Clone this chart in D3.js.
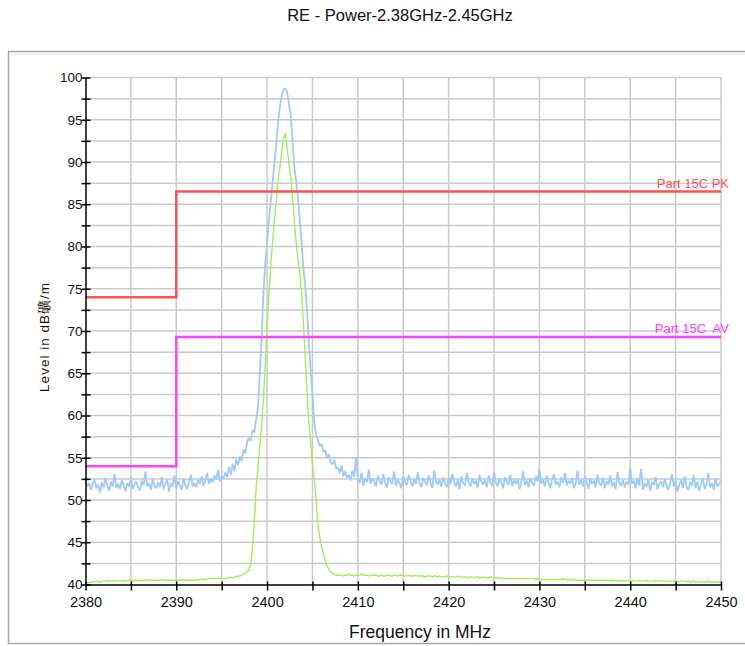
<!DOCTYPE html>
<meta charset="utf-8">

<!-- Load d3.js -->
<script src="https://cdn.jsdelivr.net/npm/d3@7"></script>

<style>
  body { margin: 0; background: #fff; }
  text { font-family: Arial, "Liberation Sans", sans-serif; }
</style>

<!-- Create a div where the graph will take place -->
<div id="re_chart"></div>

<script>

// chart texts
var title = "RE - Power-2.38GHz-2.45GHz";
var xTitle = "Frequency in MHz";
var yTitle = "Level in dB礦/m";

// axis ticks
var xTicks = [2380, 2385, 2390, 2395, 2400, 2405, 2410, 2415, 2420, 2425, 2430, 2435, 2440, 2445, 2450];
var xLabels = [2380, 2390, 2400, 2410, 2420, 2430, 2440, 2450];
var yTicks = [40, 42.5, 45, 47.5, 50, 52.5, 55, 57.5, 60, 62.5, 65, 67.5, 70, 72.5, 75, 77.5, 80, 82.5, 85, 87.5, 90, 92.5, 95, 97.5, 100];
var yLabels = [40, 45, 50, 55, 60, 65, 70, 75, 80, 85, 90, 95, 100];

// sweep: first point, last point, step (MHz)
var sweepStart = 2380, sweepStop = 2450, sweepStep = 0.2;

// peak detector trace (dBuV/m), one value per sweep point
var peakTrace = [
  52.3, 51.6, 52.0, 51.2, 51.9, 52.4, 51.4, 51.8, 50.9, 52.1,
  51.5, 52.6, 51.7, 51.1, 52.2, 51.6, 53.1, 51.4, 51.9, 51.3,
  52.4, 51.7, 51.0, 52.0, 51.6, 52.8, 51.3, 51.9, 52.2, 51.5,
  51.1, 52.3, 51.8, 53.4, 51.6, 52.0, 51.2, 52.5, 51.7, 51.4,
  52.1, 51.5, 52.7, 51.3, 51.9, 52.4, 51.0, 52.0, 51.6, 52.9,
  51.4, 52.2, 51.7, 51.2, 52.6, 51.8, 51.3, 52.1, 53.0, 51.6,
  52.0, 51.5, 52.4, 51.9, 52.8, 51.7, 52.3, 53.2, 51.9, 52.5,
  52.1, 52.9, 52.4, 53.6, 52.2, 52.8, 52.5, 53.3, 52.7, 53.9,
  53.0, 54.3, 53.4, 54.8, 54.1, 55.2, 54.6, 56.0, 55.5, 56.8,
  57.4, 57.0, 58.3, 58.0, 59.6, 61.0, 65.0, 69.0, 74.5, 78.0,
  80.5, 83.0, 85.3, 87.5, 89.8, 92.0, 94.5, 96.5, 97.8, 98.6,
  98.7, 98.3, 97.0, 95.5, 92.5, 89.5, 87.8, 85.8, 83.0, 80.5,
  77.5, 75.5, 72.5, 68.5, 65.5, 62.5, 59.0, 57.8, 57.1, 56.4,
  56.6, 55.7, 55.9, 55.0, 55.4, 54.5, 54.2, 54.8, 53.7, 53.9,
  53.2, 54.1, 52.8, 53.4, 52.6, 53.0, 52.3, 53.5, 52.7, 55.1,
  52.4, 52.0, 53.2, 51.7, 52.6, 52.1, 53.6, 51.9, 52.5, 52.2,
  51.6, 52.9, 52.3, 51.8, 53.1, 52.0, 51.5, 52.7, 52.2, 51.9,
  53.4, 51.7, 52.4, 52.0, 51.4, 52.8, 52.1, 51.8, 53.0, 52.3,
  51.6, 52.5, 51.9, 53.3, 52.0, 51.5, 52.6, 52.2, 51.7, 52.9,
  52.1, 51.4, 53.5, 52.3, 51.8, 52.4, 51.6, 52.7, 52.0, 51.5,
  52.6, 51.9, 53.1, 52.2, 51.6, 52.4, 51.3, 52.8, 52.0, 51.7,
  53.2, 52.1, 51.6, 52.5, 51.9, 52.3, 51.4, 53.0, 52.2, 51.8,
  52.4, 51.5, 52.9, 52.0, 51.7, 53.3, 52.1, 51.6, 52.6, 52.0,
  51.4, 52.7, 52.2, 51.8, 53.0, 51.6, 52.4, 51.9, 52.5, 51.3,
  52.1, 53.4, 51.8, 52.3, 51.5, 52.6, 52.0, 51.7, 52.8, 52.2,
  53.6, 51.9, 52.4, 51.6, 52.9, 52.0, 51.4, 52.5, 53.1, 51.8,
  52.2, 51.5, 52.7, 52.0, 53.2, 51.7, 52.3, 51.9, 52.6, 51.4,
  52.0, 53.5, 51.8, 52.4, 51.6, 52.8, 52.1, 51.3, 52.5, 51.9,
  52.3, 51.5, 53.0, 52.0, 51.7, 52.6, 51.4, 52.2, 51.8, 52.9,
  51.6, 52.1, 51.3, 53.3, 52.0, 51.7, 52.4, 51.5, 52.2, 51.8,
  53.8, 51.9, 52.3, 51.4, 52.6, 51.7, 53.7, 51.2, 52.0, 51.6,
  52.4, 51.1, 52.1, 51.8, 52.7, 51.3, 51.9, 52.2, 51.5, 52.5,
  51.7, 51.2, 52.0, 53.1, 51.6, 52.3, 51.0, 51.8, 52.4, 51.4,
  52.8, 51.6, 51.2, 52.1, 51.7, 53.0, 51.4, 52.2, 51.1, 51.9,
  52.5, 51.3, 51.8, 53.2, 51.5, 52.0, 51.2, 52.6, 51.6, 51.9,
  52.3
];

// average detector trace (dBuV/m), one value per sweep point
var avgTrace = [
  40.2, 40.2, 40.2, 40.3, 40.3, 40.3, 40.4, 40.3, 40.3, 40.4,
  40.4, 40.4, 40.5, 40.4, 40.4, 40.4, 40.5, 40.4, 40.4, 40.4,
  40.4, 40.5, 40.4, 40.4, 40.5, 40.5, 40.4, 40.5, 40.5, 40.5,
  40.5, 40.5, 40.5, 40.5, 40.6, 40.5, 40.5, 40.5, 40.5, 40.5,
  40.5, 40.5, 40.6, 40.5, 40.5, 40.5, 40.5, 40.5, 40.5, 40.5,
  40.5, 40.5, 40.5, 40.5, 40.6, 40.5, 40.5, 40.5, 40.5, 40.5,
  40.5, 40.5, 40.6, 40.6, 40.6, 40.6, 40.6, 40.7, 40.7, 40.7,
  40.7, 40.7, 40.7, 40.7, 40.7, 40.8, 40.7, 40.7, 40.8, 40.8,
  40.8, 40.8, 40.9, 40.9, 41.0, 41.0, 41.1, 41.2, 41.3, 41.5,
  41.7, 42.3, 44.5, 47.5, 51.5, 54.0, 56.5, 58.8, 62.0, 66.0,
  70.5, 74.5, 77.5, 80.5, 83.0, 85.3, 87.8, 89.2, 91.0, 92.8,
  93.3, 91.8, 89.8, 88.3, 85.8, 83.0, 80.5, 78.5, 76.8, 74.5,
  71.0, 67.0, 62.5, 59.3, 56.8, 54.2, 52.6, 50.0, 47.2, 45.6,
  44.5, 43.6, 42.8, 42.2, 41.8, 41.5, 41.3, 41.2, 41.1, 41.1,
  41.1, 41.1, 41.0, 41.1, 41.1, 41.2, 41.1, 41.1, 41.0, 41.1,
  41.1, 41.1, 41.2, 41.1, 41.1, 41.1, 41.0, 41.1, 41.1, 41.1,
  41.1, 41.0, 41.0, 41.1, 41.0, 41.0, 41.1, 41.1, 41.0, 41.0,
  41.1, 41.1, 41.0, 41.1, 41.1, 41.1, 41.0, 41.0, 41.1, 41.0,
  41.0, 41.0, 41.1, 41.0, 41.0, 41.0, 41.0, 40.9, 41.0, 41.0,
  41.0, 40.9, 41.0, 41.0, 40.9, 41.0, 40.9, 40.9, 40.9, 41.0,
  40.9, 40.9, 40.9, 40.9, 40.9, 41.0, 40.9, 40.9, 40.9, 40.9,
  40.9, 40.8, 40.9, 40.9, 40.8, 40.9, 40.9, 40.8, 40.8, 40.9,
  40.8, 40.8, 40.8, 40.9, 40.8, 40.8, 40.8, 40.8, 40.7, 40.8,
  40.7, 40.7, 40.7, 40.7, 40.7, 40.7, 40.7, 40.7, 40.7, 40.7,
  40.7, 40.7, 40.7, 40.7, 40.7, 40.7, 40.7, 40.7, 40.6, 40.7,
  40.6, 40.6, 40.6, 40.6, 40.6, 40.6, 40.6, 40.6, 40.6, 40.6,
  40.6, 40.6, 40.6, 40.7, 40.6, 40.6, 40.6, 40.5, 40.5, 40.6,
  40.5, 40.5, 40.5, 40.5, 40.5, 40.5, 40.5, 40.5, 40.5, 40.5,
  40.5, 40.5, 40.5, 40.5, 40.5, 40.5, 40.5, 40.5, 40.5, 40.5,
  40.5, 40.5, 40.4, 40.5, 40.4, 40.5, 40.4, 40.4, 40.5, 40.4,
  40.4, 40.4, 40.5, 40.4, 40.4, 40.5, 40.4, 40.4, 40.4, 40.5,
  40.4, 40.4, 40.4, 40.4, 40.5, 40.4, 40.4, 40.4, 40.4, 40.4,
  40.4, 40.4, 40.4, 40.4, 40.4, 40.4, 40.4, 40.3, 40.4, 40.4,
  40.4, 40.3, 40.4, 40.3, 40.3, 40.4, 40.3, 40.3, 40.3, 40.4,
  40.3, 40.3, 40.3, 40.4, 40.3, 40.3, 40.3, 40.3, 40.3, 40.3,
  40.4
];

// limit lines: step corners [MHz, dBuV/m]
var limitPkFreq = [2380, 2390, 2390, 2450];
var limitPkLevel = [74, 74, 86.5, 86.5];
var limitAvFreq = [2380, 2390, 2390, 2450];
var limitAvLevel = [54, 54, 69.3, 69.3];
var limitPkName = "Part 15C PK";
var limitAvName = "Part 15C  AV";

var colors = {
  "peak": "#9fcbfb",
  "avg": "#9ef05a",
  "limit_pk": "#ff5050",
  "limit_av": "#ff40ff",
  "grid": "#cacaca",
  "frame": "#a8a8a8"
};

// set the dimensions and margins of the graph
var W = 745, H = 646;
var plot = {left: 85.5, right: 721, top: 77.5, bottom: 584.5};

var svg = d3.select("#re_chart")
  .append("svg")
  .attr("width", W)
  .attr("height", H);

// outer panel
svg.append("rect")
  .attr("x", 8.5).attr("y", 51.5)
  .attr("width", 760).attr("height", 592)
  .style("fill", "#fff")
  .style("stroke", colors["frame"])
  .style("stroke-width", 1.5);
svg.append("rect")
  .attr("x", 9.5).attr("y", 52.5)
  .attr("width", 760).attr("height", 3)
  .style("fill", "#f2f2f2");

var x = d3.scaleLinear().domain([2380, 2450]).range([plot.left, plot.right]);
var y = d3.scaleLinear().domain([40, 100]).range([plot.bottom, plot.top]);

// grid
svg.append("g").selectAll("line")
  .data(yTicks.filter(function(d) { return d > 40; }))
  .join("line")
  .attr("x1", plot.left).attr("x2", plot.right)
  .attr("y1", function(d) { return y(d); })
  .attr("y2", function(d) { return y(d); })
  .style("stroke", colors["grid"])
  .style("stroke-width", 1.5);

svg.append("g").selectAll("line")
  .data(xTicks.filter(function(d) { return d > 2380; }))
  .join("line")
  .attr("x1", function(d) { return x(d); })
  .attr("x2", function(d) { return x(d); })
  .attr("y1", plot.top).attr("y2", plot.bottom)
  .style("stroke", colors["grid"])
  .style("stroke-width", 1.5);

// traces
var freqs = d3.range(sweepStart, sweepStop + sweepStep / 2, sweepStep);

var traceLine = d3.line()
  .x(function(d) { return x(d[0]); })
  .y(function(d) { return y(d[1]); });

svg.append("path")
  .datum(freqs.map(function(f, i) { return [f, peakTrace[i]]; }))
  .attr("d", traceLine)
  .style("fill", "none")
  .style("stroke", colors["peak"])
  .style("stroke-width", 1.8)
  .style("stroke-linejoin", "bevel");

svg.append("path")
  .datum(freqs.map(function(f, i) { return [f, avgTrace[i]]; }))
  .attr("d", traceLine)
  .style("fill", "none")
  .style("stroke", colors["avg"])
  .style("stroke-width", 1.4);

// limit lines
function drawLimit(freq, level, color, name) {
  svg.append("path")
    .datum(freq.map(function(f, i) { return [f, level[i]]; }))
    .attr("d", traceLine)
    .style("fill", "none")
    .style("stroke", color)
    .style("stroke-width", 2.5);
  svg.append("text")
    .attr("x", 729)
    .attr("y", y(level[level.length - 1]) - 4)
    .attr("text-anchor", "end")
    .style("font-size", "13px")
    .style("white-space", "pre")
    .style("fill", color)
    .text(name);
}
drawLimit(limitPkFreq, limitPkLevel, colors["limit_pk"], limitPkName);
drawLimit(limitAvFreq, limitAvLevel, colors["limit_av"], limitAvName);

// y axis
var yAxis = svg.append("g")
  .attr("transform", "translate(" + plot.left + ",0)")
  .call(d3.axisLeft(y)
    .tickValues(yTicks)
    .tickSizeOuter(0)
    .tickSizeInner(4)
    .tickPadding(4)
    .tickFormat(function(d) { return yLabels.indexOf(d) >= 0 ? d : ""; }));
yAxis.select(".domain").style("stroke", "#000").style("stroke-width", 1.5);
yAxis.selectAll(".tick line").attr("x1", 5).attr("x2", -4).style("stroke-width", 1.5);
yAxis.selectAll(".tick text")
  .style("font-size", "13.5px")
  .style("fill", "#111")
  .attr("x", -3);

// x axis
var xAxis = svg.append("g")
  .attr("transform", "translate(0," + plot.bottom + ")")
  .call(d3.axisBottom(x)
    .tickValues(xTicks)
    .tickSizeOuter(0)
    .tickSizeInner(6)
    .tickFormat(function(d) { return xLabels.indexOf(d) >= 0 ? d : ""; }));
xAxis.select(".domain").style("stroke", "#000").style("stroke-width", 1.5);
xAxis.selectAll(".tick line").attr("y1", -3).attr("y2", 6).style("stroke-width", 1.5);
xAxis.selectAll(".tick text")
  .style("font-size", "14.5px")
  .style("fill", "#111")
  .attr("y", 12);

// titles
svg.append("text")
  .attr("x", 400).attr("y", 21)
  .attr("text-anchor", "middle")
  .style("font-size", "16.5px")
  .style("fill", "#111")
  .text(title);

svg.append("text")
  .attr("x", 420).attr("y", 638)
  .attr("text-anchor", "middle")
  .style("font-size", "17.5px")
  .style("fill", "#111")
  .text(xTitle);

svg.append("text")
  .attr("transform", "translate(49,337) rotate(-90)")
  .attr("text-anchor", "middle")
  .style("font-size", "13.5px")
  .style("letter-spacing", "1px")
  .style("fill", "#111")
  .text(yTitle);

</script>
